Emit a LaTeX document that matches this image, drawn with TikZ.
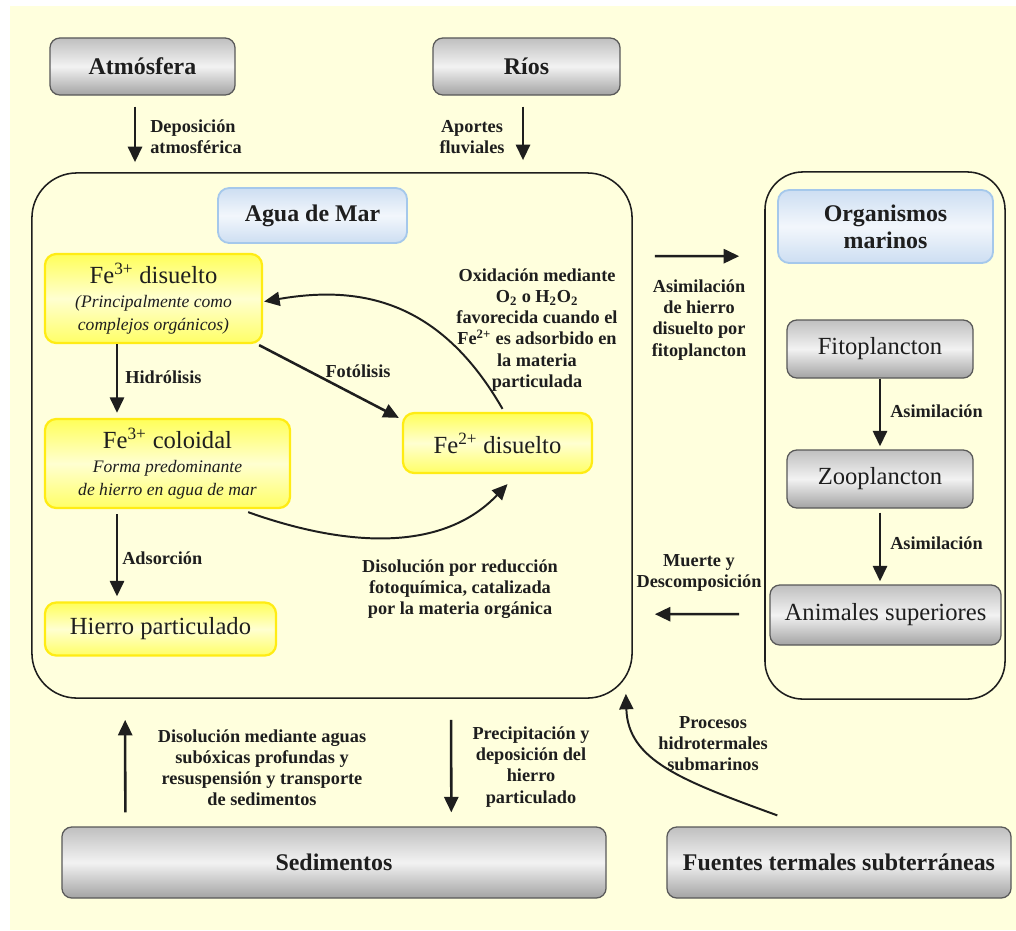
\documentclass[tikz,border=0pt]{standalone}
\usepackage{fontspec}
\setmainfont{Liberation Serif}
\usetikzlibrary{arrows.meta,calc}
\definecolor{bgyel}{RGB}{255,255,221}
\definecolor{boxyel}{RGB}{255,236,20}
\definecolor{blueedge}{RGB}{165,200,235}
\definecolor{bluefill}{RGB}{205,222,242}
\definecolor{ink}{RGB}{30,30,30}
\newcommand\mainsz{\fontsize{17.5}{21}\selectfont}
\newcommand\itsz{\fontsize{12.5}{15.5}\selectfont\itshape}
\newcommand\headsz{\fontsize{17}{19}\selectfont\bfseries}
\newcommand\lblsz{\fontsize{13}{15}\selectfont\bfseries}
\begin{document}
\begin{tikzpicture}[x=0.025cm,y=-0.025cm,
  graybox/.style={rounded corners=7pt, draw=black!65, line width=0.9pt,
    top color=black!25, bottom color=black!36, middle color=black!5,
    inner sep=0pt, text=ink},
  yelbox/.style={rounded corners=8pt, draw=boxyel, line width=1.6pt,
    top color=yellow!65, bottom color=yellow!60, middle color=yellow!18,
    inner sep=0pt, text=ink, align=center, font=\fontsize{12.5}{15.8}\selectfont},
  bluebox/.style={rounded corners=8pt, draw=blueedge, line width=1.3pt,
    top color=bluefill, bottom color=bluefill, middle color=bluefill!25,
    inner sep=0pt, text=ink, align=center},
  bigbox/.style={draw=ink, line width=1.1pt, inner sep=0pt},
  arr/.style={draw=ink, line width=1.8pt, -{Triangle[length=11pt,width=10pt]}},
  arrc/.style={draw=ink, line width=1.4pt, -{Triangle[length=11pt,width=10pt]}},
  lbl/.style={font=\lblsz, text=ink, align=center, inner sep=0pt}]
\useasboundingbox (0,0) rectangle (1016,930);
\fill[white] (0,0) rectangle (1016,930);
\fill[bgyel] (10,6) rectangle (1016,930);

% top sources
\node[graybox, minimum width=4.625cm, minimum height=1.425cm, font=\headsz] (atm) at (142.5,66.5) {Atmósfera};
\node[graybox, minimum width=4.675cm, minimum height=1.425cm, font=\headsz] (rios) at (526.5,66.5) {Ríos};

% sea water
\node[bigbox, rounded corners=32pt, minimum width=15cm, minimum height=13.125cm] (sea) at (332,435.5) {};
\node[bluebox, minimum width=4.725cm, minimum height=1.375cm, font=\headsz] (aguaT) at (312.5,215.5) {Agua de Mar};
\node[yelbox, minimum width=5.425cm, minimum height=2.225cm] (fe3d) at (153.5,298.5)
  {\mainsz Fe\textsuperscript{3+} disuelto\\[1.5pt]\itsz (Principalmente como\\\itsz complejos orgánicos)};
\node[yelbox, minimum width=6.125cm, minimum height=2.225cm] (fe3c) at (167.5,463.5)
  {\mainsz Fe\textsuperscript{3+} coloidal\\[1.5pt]\itsz Forma predominante\\\itsz de hierro en agua de mar};
\node[yelbox, minimum width=5.775cm, minimum height=1.325cm] (hp) at (160.5,629) {\mainsz Hierro particulado};
\node[yelbox, minimum width=4.725cm, minimum height=1.5cm] (fe2) at (497.5,443) {\mainsz Fe\textsuperscript{2+} disuelto};

% marine organisms
\node[bigbox, rounded corners=27pt, minimum width=6cm, minimum height=13.175cm] (orgO) at (885,435.5) {};
\node[bluebox, minimum width=5.375cm, minimum height=1.825cm, font=\headsz] (orgT) at (885.5,226.5) {Organismos\\marinos};
\node[graybox, minimum width=4.65cm, minimum height=1.45cm, font=\mainsz] (fito) at (880,349) {Fitoplancton};
\node[graybox, minimum width=4.65cm, minimum height=1.45cm, font=\mainsz] (zoo) at (880,479) {Zooplancton};
\node[graybox, minimum width=5.775cm, minimum height=1.5cm, font=\mainsz] (anim) at (885.5,615) {Animales superiores};

% bottom sources
\node[graybox, minimum width=13.6cm, minimum height=1.775cm, font=\headsz] (sed) at (334,862.5) {Sedimentos};
\node[graybox, minimum width=8.6cm, minimum height=1.775cm, font=\headsz] (fue) at (839,862.5) {Fuentes termales subterráneas};

% arrows
\draw[arr] ($(atm.south)+(-7.5,11)$) -- ($(atm.south |- sea.north)+(-7.5,-10)$);
\draw[arr] ($(rios.south)+(-3.5,11)$) -- ($(rios.south |- sea.north)+(-3.5,-12)$);
\draw[arr] ($(fe3d.south)+(-36.5,0)$) -- ($(fe3c.north)+(-50.5,-5)$);
\draw[arr] ($(fe3c.south)+(-50.5,5)$) -- ($(hp.north)+(-43.5,-5)$);
\draw[arr] ($(fe3d.south east)+(-4,1)$) -- ($(fe2.north west)+(-3,6)$);
\draw[arrc] ($(fe2.north)+(5,-3)$) .. controls (440,300) and (360,285) .. ($(fe3d.east)+(1,3)$);
\draw[arrc] ($(fe3c.south east)+(-43,3)$) .. controls (340,545) and (440,555) .. ($(fe2.south)+(10,10)$);
\draw[arr] (fito.south) -- ($(zoo.north)+(0,-3)$);
\draw[arr] ($(zoo.south)+(0,4)$) -- ($(anim.north)+(-5.5,-3)$);
\draw[arr] ($(sea.north east)+(22,84)$) -- ($(orgO.north west)+(-25,85)$);
\draw[arr] ($(orgO.north west)+(-25,443)$) -- ($(sea.north east)+(22,442)$);
\draw[arr] ($(sed.north west)+(64,-14)$) -- ($(sea.south west)+(94,21)$);
\draw[arr] ($(sea.south west)+(420,21)$) -- ($(sed.north west)+(390,-14)$);
\draw[arrc] ($(fue.north west)+(111,-11)$) .. controls (680,780) and (628,760) .. ($(sea.south east)+(-7,-5)$);

% labels
\node[lbl, anchor=west, align=left] (lDep) at (150,137) {Deposición\\atmosférica};
\node[lbl] (lApo) at (472,137) {Aportes\\fluviales};
\node[lbl, anchor=west] (lHid) at (125,377) {Hidrólisis};
\node[lbl, anchor=west] (lAds) at (122,558) {Adsorción};
\node[lbl] (lFot) at (358,371) {Fotólisis};
\node[lbl] (lOx) at (537,330) {Oxidación mediante\\O\textsubscript{2} o H\textsubscript{2}O\textsubscript{2}\\favorecida cuando el\\Fe\textsuperscript{2+} es adsorbido en\\la materia\\particulada};
\node[lbl] (lRed) at (460,589) {Disolución por reducción\\fotoquímica, catalizada\\por la materia orgánica};
\node[lbl] (lAsi) at (699,320) {Asimilación\\de hierro\\disuelto por\\fitoplancton};
\node[lbl] (lMue) at (699,573) {Muerte y\\Descomposición};
\node[lbl, anchor=west] (lA1) at (890,411) {Asimilación};
\node[lbl, anchor=west] (lA2) at (890,543) {Asimilación};
\node[lbl] (lSub) at (262,768) {Disolución mediante aguas\\subóxicas profundas y\\resuspensión y transporte\\de sedimentos};
\node[lbl] (lPre) at (531,767) {Precipitación y\\deposición del\\hierro\\particulado};
\node[lbl] (lHyd) at (713,744) {Procesos\\hidrotermales\\submarinos};
\end{tikzpicture}
\end{document}
